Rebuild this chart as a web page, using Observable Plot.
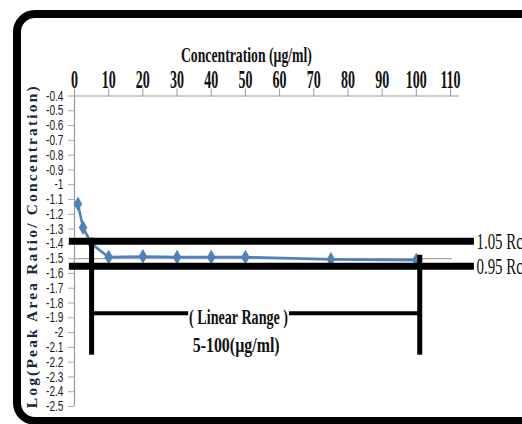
<!DOCTYPE html>
<html>
<head>
<meta charset="utf-8">
<script src="https://cdn.jsdelivr.net/npm/d3@7"></script>
<script src="https://cdn.jsdelivr.net/npm/@observablehq/plot@0.6"></script>
<style>
  html, body { margin: 0; padding: 0; background: #fff; overflow: hidden; width: 522px; height: 424px; }
  #frame { position: absolute; left: 13px; top: 10px; width: 560px; height: 399px; border: 8px solid #000; border-radius: 22px; box-sizing: content-box; }
  #chart { position: absolute; left: 0; top: 0; }
</style>
</head>
<body>
<div id="frame"></div>
<div id="chart"></div>
<script>
// ---- data ----
const conc = [1, 2.5, 5, 10, 20, 30, 40, 50, 75, 100];
const logRatio = [-1.13, -1.29, -1.40, -1.49, -1.485, -1.49, -1.49, -1.49, -1.505, -1.51];
const xTicks = [0, 10, 20, 30, 40, 50, 60, 70, 80, 90, 100, 110];
const yTicks = [-0.4, -0.5, -0.6, -0.7, -0.8, -0.9, -1, -1.1, -1.2, -1.3, -1.4, -1.5, -1.6, -1.7, -1.8, -1.9, -2, -2.1, -2.2, -2.3, -2.4, -2.5];
const limitLabels = ["1.05 Rc", "0.95 Rc"];
const limitValues = [-1.383, -1.552];
const meanValue = [-1.5];
const rangeStart = 5, rangeEnd = 101;
const rangeLevel = -1.87;
const rangeLabels = ["( Linear Range )", "5-100(µg/ml)"];
const xTitle = "Concentration (µg/ml)";
const yTitle = "Log(Peak Area Ratio/ Concentration)";

const series = conc.map((c, i) => ({c, v: logRatio[i]}));
const limits = limitValues.map((v, i) => ({v, label: limitLabels[i]}));
const verticals = [
  {x: rangeStart, y1: limitValues[0], y2: -2.153},
  {x: rangeEnd, y1: -1.477, y2: -2.153}
];
const bracket = [
  {y: rangeLevel, x1: rangeStart, x2: 33.4},
  {y: rangeLevel, x1: 62.9, x2: rangeEnd}
];

const serif = "'Liberation Serif', 'Times New Roman', serif";
const sans = "'Liberation Sans', Arial, sans-serif";

const plot = Plot.plot({
  width: 522,
  height: 424,
  marginLeft: 74,
  marginRight: 72,
  marginTop: 95.5,
  marginBottom: 18,
  style: {background: "transparent", overflow: "visible"},
  x: {domain: [0, 110]},
  y: {domain: [-2.5, -0.4]},
  marks: [
    Plot.axisX({anchor: "top", ticks: xTicks, tickSize: 8, tickPadding: 0, label: null,
      fontFamily: serif, fontSize: 25, fontWeight: "bold", fill: "#111", stroke: "#999"}),
    Plot.axisY({anchor: "left", ticks: yTicks, tickSize: 6, tickPadding: 5, label: null,
      tickFormat: d => String(+d.toFixed(1)),
      fontFamily: sans, fontSize: 14.5, fill: "#1a1a2a", stroke: "#aaa"}),
    Plot.ruleY([-0.4], {x1: 0, x2: 112.6, stroke: "#999", strokeWidth: 1.2}),
    Plot.ruleX([0], {y1: -0.4, y2: -2.5, stroke: "#999", strokeWidth: 1.2}),
    Plot.ruleY(meanValue, {x1: 0, x2: 110.6, stroke: "#aaa", strokeWidth: 1.2}),
    Plot.line(series, {x: "c", y: "v", stroke: "#4F81BD", strokeWidth: 2.6}),
    Plot.dot(series, {x: "c", y: "v", symbol: "diamond", r: 3.6, fill: "#4F81BD", stroke: "#4F81BD"}),
    Plot.ruleY(limits, {y: "v", x1: -1.5, x2: 117, stroke: "#000", strokeWidth: 7}),
    Plot.ruleX(verticals, {x: "x", y1: "y1", y2: "y2", stroke: "#000", strokeWidth: 5}),
    Plot.ruleY(bracket, {y: "y", x1: "x1", x2: "x2", stroke: "#000", strokeWidth: 4}),
    Plot.text(limits, {x: 117.6, y: "v", text: "label", textAnchor: "start",
      fontFamily: serif, fontSize: 24, fill: "#111", className: "limlab"}),
    Plot.text([rangeLabels[0]], {x: 48, y: -1.896, text: d => d, fontFamily: serif, fontSize: 22,
      fontWeight: "bold", fill: "#111", className: "rl1"}),
    Plot.text([rangeLabels[1]], {x: 47.3, y: -2.086, text: d => d, fontFamily: serif, fontSize: 20,
      fontWeight: "bold", fill: "#111", className: "rl2"}),
    Plot.text([xTitle], {frameAnchor: "top", dy: -50, x: 50.3, text: d => d, fontFamily: serif,
      fontSize: 22, fontWeight: "bold", fill: "#111", className: "xt"}),
    Plot.text([yTitle], {frameAnchor: "left", textAnchor: "middle", dx: -42, dy: -4, rotate: -90, text: d => d, fontFamily: serif,
      fontSize: 15.5, fontWeight: "bold", fill: "#1d2540", className: "yt"})
  ]
});

document.getElementById("chart").appendChild(plot);

function fit(sel, fn, adjust) {
  plot.querySelectorAll(sel).forEach(t => {
    const w = t.getComputedTextLength();
    t.setAttribute("textLength", fn(w));
    t.setAttribute("lengthAdjust", adjust || "spacingAndGlyphs");
  });
}
fit('g[aria-label="x-axis tick label"] text', w => w * 0.56);
fit('g[aria-label="y-axis tick label"] text', w => w * 0.7);
fit('g.limlab text', w => w * 0.62);
fit('g.rl1 text', () => 99);
fit('g.rl2 text', () => 87);
fit('g.xt text', () => 131);
fit('g.yt text', () => 322, "spacing");
</script>
</body>
</html>
